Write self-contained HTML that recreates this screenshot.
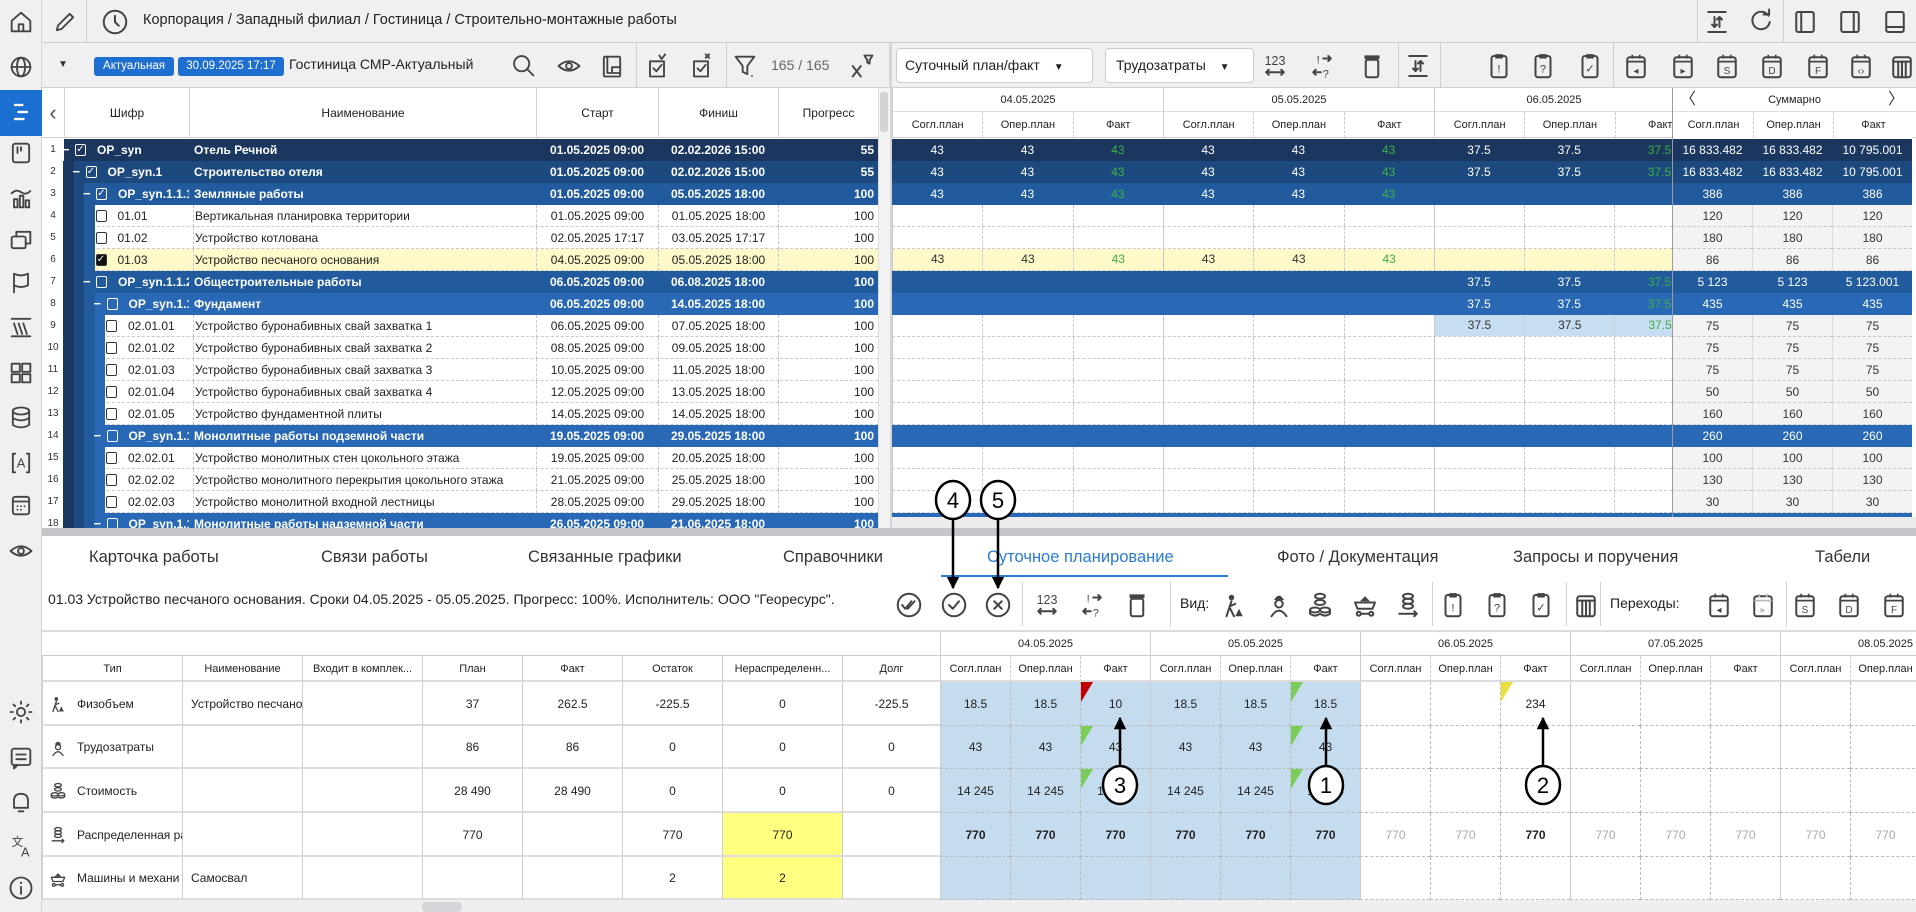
<!DOCTYPE html>
<html><head><meta charset="utf-8"><title>Суточное планирование</title>
<style>
*{box-sizing:border-box}
body{margin:0;width:1916px;height:912px;overflow:hidden;background:#f0f0f2;font-family:"Liberation Sans","DejaVu Sans",sans-serif;color:#222;position:relative}
.a{position:absolute}
</style></head>
<body>
<div class="a" style="left:0;top:0;width:42px;height:912px;background:#f0f0f2;border-right:1px solid #d6d6da"></div>
<div class="a" style="left:0;top:90px;width:42px;height:46px;background:#1a6fd1"></div>
<div class="a" style="left:42px;top:0;width:1874px;height:43px;background:#f0f0f2;border-bottom:1px solid #cfcfd3"></div>
<div class="a" style="left:86px;top:0;width:1px;height:43px;background:#cfcfd3"></div>
<div class="a" style="left:143px;top:12px;font-size:14.5px;color:#222;white-space:nowrap">Корпорация / Западный филиал / Гостиница / Строительно-монтажные работы</div>
<div class="a" style="left:42px;top:43px;width:848px;height:45px;background:#f0f0f2;border-bottom:1px solid #d0d0d4"></div>
<div class="a" style="left:94px;top:57px;width:80px;height:19px;background:#1e6fd0;color:#fff;border-radius:3px;font-size:11.5px;line-height:19px;text-align:center">Актуальная</div>
<div class="a" style="left:178px;top:57px;width:106px;height:19px;background:#1e6fd0;color:#fff;border-radius:3px;font-size:11.5px;line-height:19px;text-align:center">30.09.2025 17:17</div>
<div class="a" style="left:289px;top:56px;font-size:14px;white-space:nowrap">Гостиница СМР-Актуальный</div>
<div class="a" style="left:771px;top:57px;font-size:14px;color:#666">165 / 165</div>
<div class="a" style="left:892px;top:43px;width:1024px;height:45px;background:#f0f0f2;border-bottom:1px solid #d0d0d4"></div>
<div class="a" style="left:896px;top:48px;width:197px;height:35px;background:#fff;border:1px solid #ccc;border-radius:4px;font-size:14px;line-height:33px;padding-left:8px">Суточный план/факт <span style="font-size:10px;margin-left:10px">▼</span></div>
<div class="a" style="left:1105px;top:48px;width:149px;height:35px;background:#fff;border:1px solid #ccc;border-radius:4px;font-size:14px;line-height:33px;padding-left:10px">Трудозатраты <span style="font-size:10px;margin-left:10px">▼</span></div>
<div class="a" style="left:889px;top:43px;width:3px;height:487px;background:#d6d6da"></div>
<div class="a" style="left:42px;top:528px;width:1874px;height:8px;background:#c6c6ca"></div>
<div class="a" style="left:892px;top:517px;width:1024px;height:11px;background:#ececef"></div>
<div class="a" style="left:42px;top:536px;width:1874px;height:364px;background:#fff"></div>
<div class="a" style="left:42px;top:900px;width:1874px;height:12px;background:#efeff1"></div>
<div class="a" style="left:422px;top:902px;width:40px;height:10px;background:#d6d6da;border-radius:4px"></div>
<div class="a" style="left:48px;top:591px;font-size:14px;white-space:nowrap">01.03 Устройство песчаного основания. Сроки 04.05.2025 - 05.05.2025. Прогресс: 100%. Исполнитель: ООО "Георесурс".</div>
<div class="a" style="left:42px;top:630px;width:1874px;height:2px;background:#dcdce0"></div>
<div class="a" style="left:1180px;top:595px;font-size:14px">Вид:</div>
<div class="a" style="left:1610px;top:595px;font-size:14px">Переходы:</div>
<div class="a" style="left:941px;top:575px;width:287px;height:2px;background:#2a7bd4"></div>

<script>
const root = document.body;
function box(p,x,y,w,h,css){const d=document.createElement('div');d.className='a';d.style.cssText='left:'+x+'px;top:'+y+'px;width:'+w+'px;height:'+h+'px;'+(css||'');p.appendChild(d);return d;}
function txt(p,x,y,w,h,s,css){const d=box(p,x,y,w,h,'line-height:'+h+'px;white-space:nowrap;overflow:hidden;'+(css||''));d.textContent=s;return d;}

/* ---------- data ---------- */
const L = ['#1b365f','#1d4a7e','#215b9e','#2868b5'];
const rowKind = ['g1','g2','g3','l3','l3','l3','g3','g4','l4','l4','l4','l4','l4','g4','l4','l4','l4','g4'];
const rowCode = ['OP_syn','OP_syn.1','OP_syn.1.1.1','01.01','01.02','01.03','OP_syn.1.1.2','OP_syn.1.1.1','02.01.01','02.01.02','02.01.03','02.01.04','02.01.05','OP_syn.1.1.2','02.02.01','02.02.02','02.02.03','OP_syn.1.1.3'];
const rowName = ['Отель Речной','Строительство отеля','Земляные работы','Вертикальная планировка территории','Устройство котлована','Устройство песчаного основания','Общестроительные работы','Фундамент','Устройство буронабивных свай захватка 1','Устройство буронабивных свай захватка 2','Устройство буронабивных свай захватка 3','Устройство буронабивных свай захватка 4','Устройство фундаментной плиты','Монолитные работы подземной части','Устройство монолитных стен цокольного этажа','Устройство монолитного перекрытия цокольного этажа','Устройство монолитной входной лестницы','Монолитные работы надземной части'];
const rowStart = ['01.05.2025 09:00','01.05.2025 09:00','01.05.2025 09:00','01.05.2025 09:00','02.05.2025 17:17','04.05.2025 09:00','06.05.2025 09:00','06.05.2025 09:00','06.05.2025 09:00','08.05.2025 09:00','10.05.2025 09:00','12.05.2025 09:00','14.05.2025 09:00','19.05.2025 09:00','19.05.2025 09:00','21.05.2025 09:00','28.05.2025 09:00','26.05.2025 09:00'];
const rowFinish = ['02.02.2026 15:00','02.02.2026 15:00','05.05.2025 18:00','01.05.2025 18:00','03.05.2025 17:17','05.05.2025 18:00','06.08.2025 18:00','14.05.2025 18:00','07.05.2025 18:00','09.05.2025 18:00','11.05.2025 18:00','13.05.2025 18:00','14.05.2025 18:00','29.05.2025 18:00','20.05.2025 18:00','25.05.2025 18:00','29.05.2025 18:00','21.06.2025 18:00'];
const rowProgress = ['55','55','100','100','100','100','100','100','100','100','100','100','100','100','100','100','100','100'];
const dayCells = [
 ['43','43','43','43','43','43','37.5','37.5','37.5'],
 ['43','43','43','43','43','43','37.5','37.5','37.5'],
 ['43','43','43','43','43','43','','',''],
 [],[],
 ['43','43','43','43','43','43','','',''],
 ['','','','','','','37.5','37.5','37.5'],
 ['','','','','','','37.5','37.5','37.5'],
 ['','','','','','','37.5','37.5','37.5'],
 [],[],[],[],[],[],[],[],[]];
const sumPlan = ['16 833.482','16 833.482','386','120','180','86','5 123','435','75','75','75','50','160','260','100','130','30',''];
const sumOper = ['16 833.482','16 833.482','386','120','180','86','5 123','435','75','75','75','50','160','260','100','130','30',''];
const sumFact = ['10 795.001','10 795.001','386','120','180','86','5 123.001','435','75','75','75','50','160','260','100','130','30',''];
const topDates = ['04.05.2025','05.05.2025','06.05.2025'];
const subHeads = ['Согл.план','Опер.план','Факт'];

/* ---------- left table ---------- */
const lh = box(root,42,88,848,50,'background:#fff;border-bottom:1px solid #cfcfcf');


const colX = [64,189,536,658,778,878];
const colT = ['Шифр','Наименование','Старт','Финиш','Прогресс'];
for(let c=0;c<5;c++){
  const h = txt(root,colX[c],88,colX[c+1]-colX[c],50,colT[c],'text-align:center;font-size:12px;border-left:1px solid #d4d4d4');
  
  
}
const coll = txt(root,42,88,22,50,'‹','text-align:center;font-size:22px;color:#555');


const vs = box(root,878,88,12,440,'background:#f3f3f3;border-left:1px solid #ddd');


const vt = box(root,880,92,8,40,'background:#d4d4d4;border-radius:3px');



const lclip = box(root,42,138,836,390,'overflow:hidden;background:#fff');


const rclip = box(root,892,138,1024,379,'overflow:hidden;background:#fff');



const greenTxt = '#3cb043';
for(let i=0;i<rowKind.length;i++){
  const k = rowKind[i], y = 1+22*i, isG = k[0]==='g', lv = +k[1];
  const stripes = isG ? lv-1 : lv;
  const bg = isG ? L[lv-1] : (i===5 ? '#fdf9c8' : '#fff');
  const row = box(lclip,0,y,836,22,'background:'+bg+(isG?'':';border-bottom:1px dashed #c8c8c8'));
  
  
  const num = txt(lclip,0,y,22,22,String(i+1),'background:#fff;text-align:center;font-size:10px;color:#333');
  
  
  for(let s=0;s<stripes;s++){
    const st = box(lclip,21+s*10.5,y,10.5,22,'background:'+L[s]);
    
    
  }
  const base = 21 + stripes*10.5;
  const fc = isG ? '#fff' : '#222';
  const fw = isG ? 'bold' : 'normal';
  let cbx, codeX;
  if(isG){
    const mn = txt(lclip,base-1,y,10,22,'−','color:#fff;font-size:13px;font-weight:bold');
    
    
    cbx = base+12; codeX = base+34;
  } else { cbx = base+1; codeX = base+23; }
  const checked = (i<3 || i===5);
  const cb = box(lclip,cbx,y+5,11,12,'border:1.3px solid '+(isG?'#fff':'#333')+';border-radius:2px;font-size:10px;line-height:10px;text-align:center;color:'+(i===5?'#fff':(isG?'#fff':'#333'))+';background:'+(i===5?'#111':'transparent'));
  cb.textContent = checked ? '✓' : '';
  
  
  const cd = txt(lclip,codeX,y,147-codeX,22,rowCode[i],'font-size:12px;color:'+fc+';font-weight:'+fw);
  
  
  const nm = txt(lclip,151,y,345,22,rowName[i],'font-size:12px;padding-left:1px;color:'+fc+';font-weight:'+fw+(isG?'':';border-left:1px dashed #c8c8c8'));
  
  
  const sd = txt(lclip,494,y,122,22,rowStart[i],'font-size:12px;text-align:center;color:'+fc+';font-weight:'+fw+(isG?'':';border-left:1px dashed #c8c8c8'));
  
  
  const fd = txt(lclip,616,y,120,22,rowFinish[i],'font-size:12px;text-align:center;color:'+fc+';font-weight:'+fw+(isG?'':';border-left:1px dashed #c8c8c8'));
  
  
  const pr = txt(lclip,736,y,100,22,rowProgress[i],'font-size:12px;text-align:right;padding-right:4px;color:'+fc+';font-weight:'+fw+(isG?'':';border-left:1px dashed #c8c8c8'));
  
  

  /* right grid row */
  const rbg = isG ? L[lv-1] : (i===5 ? '#fdf9c8' : '#fff');
  const rr = box(rclip,0,y,780,22,'background:'+rbg+(isG?'':';border-bottom:1px dashed #c8c8c8'));
  
  
  const vals = dayCells[i];
  for(let c=0;c<9;c++){
    const x = c*90.3;
    const v = vals[c] || '';
    const isFact = c%3===2;
    let cbg = 'transparent';
    if(i===8 && c>=6) cbg = '#c7ddf2';
    const col = isFact ? greenTxt : (isG ? '#fff' : '#333');
    const cell = txt(rclip,x,y,90.3,isG?22:21,v,'font-size:12px;text-align:center;color:'+col+';background:'+cbg+(isG?'':(c%3===0?';border-left:1px solid #c8c8c8':';border-left:1px dashed #c8c8c8')));
    
    
  }
  const sbg = isG ? L[lv-1] : '#f3f3f3';
  const sums = [sumPlan[i],sumOper[i],sumFact[i]];
  for(let c=0;c<3;c++){
    const sc = txt(rclip,780+c*80,y,80,22,sums[c],'font-size:12px;text-align:center;background:'+sbg+';color:'+(isG?'#fff':'#333')+';border-left:1px solid '+(c===0?'#9a9aa0':(isG?'transparent':'#dcdcdc'))+(isG?'':';border-bottom:1px dashed #c8c8c8'));
    
    
  }
}

/* ---------- right grid header ---------- */
const rh = box(root,892,88,1024,50,'background:#fff;border-bottom:1px solid #cfcfcf');


for(let d=0;d<3;d++){
  const dh = txt(root,892+d*271,88,(d<2?271:239),24,topDates[d],'font-size:11px;text-align:center;border-left:1px solid #ccc;border-bottom:1px solid #ddd');
  
  
  for(let s=0;s<3;s++){
    const sh = txt(root,892+d*271+s*90.3,112,90.3,26,subHeads[s],'font-size:11px;text-align:center;border-left:1px '+(s===0?'solid #ccc':'dashed #ccc'));
    
    
  }
}
const rclipFix = box(root,1672,88,244,429,'background:transparent;border-left:1px solid #9a9aa0');


const sumH = txt(root,1673,88,243,24,'Суммарно','font-size:11px;text-align:center;background:#fff;border-bottom:1px solid #ddd');


const la = txt(root,1680,88,20,24,'〈','font-size:16px;color:#333');


const ra = txt(root,1888,88,20,24,'〉','font-size:16px;color:#333');


for(let s=0;s<3;s++){
  const sh = txt(root,1673+s*80,112,80,26,subHeads[s],'font-size:11px;text-align:center;background:#fff;border-left:1px '+(s===0?'solid #fff':'dashed #ccc'));
  
  
}

/* ---------- bottom tabs ---------- */
const tabs = ['Карточка работы','Связи работы','Связанные графики','Справочники','Суточное планирование','Фото / Документация','Запросы и поручения','Табели'];
const tabX = [89,321,528,783,987,1277,1513,1815];
for(let t=0;t<tabs.length;t++){
  const tb = txt(root,tabX[t],544,260,26,tabs[t],'width:auto;font-size:16.5px;color:'+(t===4?'#2a7bd4':'#333'));
  
  
}

/* ---------- bottom grid ---------- */
const bCols = [42,182,302,422,522,622,722,842,940];
const bHeads = ['Тип','Наименование','Входит в комплек...','План','Факт','Остаток','Нераспределенн...','Долг'];
const bTypes = ['Физобъем','Трудозатраты','Стоимость','Распределенная ра','Машины и механи'];
const bNames = ['Устройство песчано','','','','Самосвал'];
const bPlan = ['37','86','28 490','770',''];
const bFact = ['262.5','86','28 490','',''];
const bRest = ['-225.5','0','0','770','2'];
const bUnalloc = ['0','0','0','770','2'];
const bDebt = ['-225.5','0','0','',''];
const bDates = ['04.05.2025','05.05.2025','06.05.2025','07.05.2025','08.05.2025'];
const bDay = [
 ['18.5','18.5','10','18.5','18.5','18.5','','','234','','','','',''],
 ['43','43','43','43','43','43','','','','','','','',''],
 ['14 245','14 245','14 245','14 245','14 245','14 245','','','','','','','',''],
 ['770','770','770','770','770','770','770','770','770','770','770','770','770','770'],
 []];
const bBoldMask = [[1,1,1,1,1,1,0,0,1,0,0,0,0,0]];
const bRowY = [682,726,769,813,857,900];
const topBlank = box(root,42,632,898,24,'background:#fff;border-bottom:1px solid #ccc');


for(let c=0;c<8;c++){
  const h = txt(root,bCols[c],656,bCols[c+1]-bCols[c],26,bHeads[c],'font-size:11px;text-align:center;border-left:1px solid #ccc;border-bottom:2px solid #ddd;background:#fff');
  
  
}
for(let d=0;d<5;d++){
  const dh = txt(root,940+d*210,632,210,24,bDates[d],'font-size:11px;text-align:center;border-left:1px solid #ccc;border-bottom:1px solid #ccc;background:#fff');
  
  
  for(let s=0;s<3;s++){
    const sh = txt(root,940+d*210+s*70,656,70,26,subHeads[s],'font-size:11px;text-align:center;background:#fff;border-bottom:2px solid #ddd;border-left:1px '+(s===0?'solid #ccc':'dashed #ccc'));
    
    
  }
}
const blue = box(root,940,682,420,218,'background:#c5dcef');


const leftVals = [bTypes,bNames,null,bPlan,bFact,bRest,bUnalloc,bDebt];
for(let r=0;r<5;r++){
  const y = bRowY[r], h = bRowY[r+1]-y;
  for(let c=0;c<8;c++){
    let v = leftVals[c] ? leftVals[c][r] : '';
    const yl = (c===6 && r>=3) ? ';background:#ffff80' : '';
    const al = c<2 ? 'left;padding-left:'+(c===0?34:8)+'px' : 'center';
    const cell = txt(root,bCols[c],y,bCols[c+1]-bCols[c],h,v,'font-size:12px;text-align:'+al+';border-left:1px solid #ccc;border-bottom:2px solid #ddd'+yl);
    
    
  }
  for(let c=0;c<14;c++){
    const v = bDay[r][c] || '';
    const bold = r===3 && (c<6 || c===8);
    const gray = r===3 && !bold;
    const cell = txt(root,940+c*70,y,70,h,v,'font-size:12px;text-align:center;color:'+(gray?'#aaa':'#222')+';font-weight:'+(bold?'bold':'normal')+';border-bottom:1px dashed #bbb;border-left:1px '+(c%3===0?'solid #ccc':'dashed #bbb'));
    
    
  }
}
/* triangles */
const triCol = ['#c00000','#7ccc5c','#7ccc5c','#7ccc5c','#7ccc5c','#7ccc5c','#e8e040'];
const triC = [2,2,2,5,5,5,8];
const triR = [0,1,2,0,1,2,0];
for(let t=0;t<triC.length;t++){
  const tr = box(root,941+triC[t]*70,bRowY[triR[t]],0,0,'border-top:20px solid '+triCol[t]+';border-right:12px solid transparent');
  
  
}

/* ---------- icons ---------- */
const S='stroke="#444" stroke-width="1.6" fill="none" stroke-linecap="round" stroke-linejoin="round"';
function clipIco(g,c){return '<rect x="6" y="4" width="12" height="17" rx="2" '+S+' stroke="'+c+'"/><rect x="9" y="2.5" width="6" height="3.5" fill="'+c+'"/><text x="12" y="17" font-size="9" text-anchor="middle" fill="'+c+'" font-family="Liberation Sans">'+g+'</text>';}
function calIco(g,c){return '<rect x="5" y="5" width="14" height="16" rx="2" '+S+' stroke="'+c+'"/><line x1="5" y1="8.5" x2="19" y2="8.5" stroke="'+c+'" stroke-width="1.4"/><line x1="9" y1="3" x2="9" y2="6" stroke="'+c+'" stroke-width="1.4"/><line x1="15" y1="3" x2="15" y2="6" stroke="'+c+'" stroke-width="1.4"/><text x="12" y="18.5" font-size="8" text-anchor="middle" fill="'+c+'" font-family="Liberation Sans">'+g+'</text>';}
const ICONS = {
 home:'<path d="M4 11 L12 4 L20 11 V20 H4Z M10 20 V14 H14 V20" '+S+'/>',
 globe:'<circle cx="12" cy="12" r="8" '+S+'/><ellipse cx="12" cy="12" rx="3.5" ry="8" '+S+'/><line x1="4" y1="12" x2="20" y2="12" '+S+'/>',
 list:'<line x1="6" y1="6" x2="14" y2="6" stroke="#fff" stroke-width="2"/><line x1="9" y1="12" x2="18" y2="12" stroke="#fff" stroke-width="2"/><line x1="6" y1="18" x2="15" y2="18" stroke="#fff" stroke-width="2"/>',
 board:'<rect x="5" y="4" width="14" height="16" rx="2" '+S+'/><line x1="9" y1="7" x2="9" y2="12" '+S+'/><line x1="12" y1="7" x2="12" y2="10" '+S+'/>',
 chart:'<path d="M4 8 Q8 4 12 7 T20 6" '+S+'/><rect x="6" y="13" width="3" height="7" '+S+'/><rect x="11" y="10" width="3" height="10" '+S+'/><rect x="16" y="14" width="3" height="6" '+S+'/>',
 windows:'<rect x="4" y="9" width="12" height="10" rx="1.5" '+S+'/><path d="M8 9 V5 H20 V15 H16" '+S+'/>',
 flag:'<path d="M6 20 V4 Q12 7 18 4 V14 Q12 17 6 14" '+S+'/>',
 lines:'<line x1="4" y1="5" x2="20" y2="5" '+S+'/><line x1="6" y1="9" x2="9" y2="18" '+S+'/><line x1="10" y1="9" x2="13" y2="18" '+S+'/><line x1="14" y1="9" x2="17" y2="18" '+S+'/><line x1="4" y1="20" x2="20" y2="20" '+S+'/>',
 grid:'<rect x="4" y="4" width="7" height="7" '+S+'/><rect x="13" y="4" width="7" height="7" '+S+'/><rect x="4" y="13" width="7" height="7" '+S+'/><rect x="13" y="13" width="7" height="7" '+S+'/>',
 db:'<ellipse cx="12" cy="6" rx="7" ry="3" '+S+'/><path d="M5 6 V18 Q12 22 19 18 V6 M5 12 Q12 16 19 12" '+S+'/>',
 bracketA:'<path d="M7 4 H5 V20 H7 M17 4 H19 V20 H17" '+S+'/><text x="12" y="16" font-size="11" text-anchor="middle" fill="#444" font-family="Liberation Sans">A</text>',
 calendar:'<rect x="5" y="5" width="14" height="15" rx="2" '+S+'/><line x1="5" y1="9" x2="19" y2="9" '+S+'/><circle cx="9" cy="13" r=".8" fill="#444"/><circle cx="12" cy="13" r=".8" fill="#444"/><circle cx="15" cy="13" r=".8" fill="#444"/><circle cx="9" cy="16" r=".8" fill="#444"/><circle cx="12" cy="16" r=".8" fill="#444"/>',
 eye:'<path d="M3 12 Q12 4 21 12 Q12 20 3 12Z" '+S+'/><circle cx="12" cy="12" r="2.5" '+S+'/>',
 sun:'<circle cx="12" cy="12" r="3.5" '+S+'/><path d="M12 3v2M12 19v2M3 12h2M19 12h2M5.6 5.6l1.4 1.4M17 17l1.4 1.4M5.6 18.4L7 17M17 7l1.4-1.4" '+S+'/>',
 chat:'<rect x="4" y="4" width="16" height="14" rx="2" '+S+'/><path d="M6 18 V21 L9 18" '+S+'/><line x1="8" y1="9" x2="16" y2="9" '+S+'/><line x1="8" y1="13" x2="16" y2="13" '+S+'/>',
 bell:'<path d="M6 17 V11 Q6 5 12 5 Q18 5 18 11 V17 H6Z M10 20 H14" '+S+'/>',
 translate:'<text x="4" y="12" font-size="10" fill="#444" font-family="Liberation Sans">文</text><text x="12" y="21" font-size="11" fill="#444" font-family="Liberation Sans">A</text>',
 info:'<circle cx="12" cy="12" r="9" '+S+'/><line x1="12" y1="11" x2="12" y2="17" '+S+'/><circle cx="12" cy="7.5" r="1" fill="#444"/>',
 pencil:'<path d="M5 19 L6 15 L16 5 L19 8 L9 18Z" '+S+'/>',
 clock:'<circle cx="12" cy="12" r="9" '+S+'/><path d="M12 7 V12 L15 15" '+S+'/>',
 search:'<circle cx="10" cy="10" r="6.5" '+S+'/><line x1="15" y1="15" x2="20" y2="20" '+S+'/>',
 layout:'<rect x="5" y="4" width="14" height="17" rx="1" '+S+'/><path d="M8 4 V18 H19 M12 18 V13 H19" '+S+'/>',
 chk:'<rect x="6" y="8" width="12" height="13" '+S+'/><path d="M9 14 L11.5 16.5 L16 11 M14 3 L16 6 L19 2" '+S+'/>',
 chkx:'<rect x="6" y="8" width="12" height="13" '+S+'/><path d="M9 14 L11.5 16.5 L16 11 M16 2 L19 5 M19 2 L16 5" '+S+'/>',
 filter:'<path d="M4 4 H20 L14 12 V19 L10 17 V12Z" '+S+'/><path d="M17 20 L19 20 L18 22Z" fill="#444"/>',
 xfilter:'<path d="M4 12 L11 21 M11 12 L4 21" '+S+'/><path d="M14 3 H21 L18.5 7 V10 L16.5 9 V7Z" '+S+'/>',
 sort:'<line x1="5" y1="4" x2="19" y2="4" '+S+'/><line x1="5" y1="20" x2="19" y2="20" '+S+'/><path d="M10 8 V16 M8 14 L10 16 L12 14 M14 16 V8 M12 10 L14 8 L16 10" '+S+'/>',
 refresh:'<path d="M18 7 A7 7 0 1 0 19 12" '+S+'/><path d="M14 6 H18.5 V2" '+S+'/>',
 panelL:'<rect x="5" y="4" width="14" height="16" rx="1.5" '+S+'/><line x1="9" y1="4" x2="9" y2="20" '+S+'/>',
 panelR:'<rect x="5" y="4" width="14" height="16" rx="1.5" '+S+'/><line x1="15" y1="4" x2="15" y2="20" '+S+'/>',
 panelB:'<rect x="5" y="4" width="14" height="16" rx="1.5" '+S+'/><line x1="5" y1="16" x2="19" y2="16" '+S+'/>',
 num:'<text x="12" y="11" font-size="10" text-anchor="middle" fill="#444" font-family="Liberation Sans">123</text><path d="M5 17 H19 M7 15 L5 17 L7 19 M17 15 L19 17 L17 19" '+S+'/>',
 qa:'<text x="9" y="10" font-size="9" text-anchor="middle" fill="#444" font-family="Liberation Sans">!</text><text x="15" y="21" font-size="9" text-anchor="middle" fill="#444" font-family="Liberation Sans">?</text><path d="M13 6 H19 M17 4 L19 6 L17 8 M5 17 H11 M7 15 L5 17 L7 19" '+S+'/>',
 trash:'<rect x="7" y="7" width="10" height="14" rx="1.5" '+S+'/><rect x="6" y="3.5" width="12" height="3" fill="#444"/>',
 ccheck:'<circle cx="12" cy="12" r="9" '+S+'/><path d="M8 12 L11 15 L16 9" '+S+'/>',
 cx:'<circle cx="12" cy="12" r="9" '+S+'/><path d="M9 9 L15 15 M15 9 L9 15" '+S+'/>',
 cdouble:'<circle cx="12" cy="12" r="9" '+S+'/><path d="M6.5 12 L9 15 L14 9 M10.5 14.5 L11 15 L16.5 9" '+S+'/>',
 worker:'<circle cx="10" cy="6" r="2.2" fill="#444"/><path d="M10 9 L8 15 L6 21 M9 13 L13 11 M9 15 L12 21" '+S+'/><path d="M13 21 L19 21 L16 15Z" fill="#444"/>',
 person:'<path d="M8 8 Q12 1 16 8Z" fill="#444"/><circle cx="12" cy="11" r="3" '+S+'/><path d="M6 21 Q12 12 18 21" '+S+'/>',
 coins:'<ellipse cx="12" cy="5" rx="4" ry="2" '+S+'/><ellipse cx="12" cy="10" rx="4" ry="2" '+S+'/><ellipse cx="8" cy="16" rx="4" ry="2" '+S+'/><ellipse cx="16" cy="16" rx="4" ry="2" '+S+'/><path d="M4 16 V19 Q8 22 12 19 Q16 22 20 19 V16" '+S+'/>',
 truck:'<path d="M8 9 L12 5 L16 9Z" fill="#444"/><path d="M4 10 H20 L18 15 H6Z" '+S+'/><circle cx="7" cy="19" r="1.6" '+S+'/><circle cx="17" cy="19" r="1.6" '+S+'/><line x1="9" y1="19" x2="15" y2="19" '+S+'/>',
 coinsArrow:'<ellipse cx="12" cy="5" rx="4" ry="2" '+S+'/><ellipse cx="12" cy="9" rx="4" ry="2" '+S+'/><ellipse cx="12" cy="13" rx="4" ry="2" '+S+'/><path d="M5 19 H19 M17 17 L19 19 L17 21" '+S+'/>',
 calGrid:'<rect x="5" y="5" width="14" height="16" rx="2" '+S+'/><line x1="5" y1="8.5" x2="19" y2="8.5" '+S+'/><path d="M9 9 V21 M12 9 V21 M15 9 V21" '+S+'/>'
};
function icon(cx,cy,sz,inner,name){
  const s = document.createElementNS('http://www.w3.org/2000/svg','svg');
  s.setAttribute('viewBox','0 0 24 24');
  s.setAttribute('width',sz);s.setAttribute('height',sz);
  s.style.cssText='position:absolute;left:'+(cx-sz/2)+'px;top:'+(cy-sz/2)+'px';
  s.innerHTML = inner;
  
  
  root.appendChild(s);
  return s;
}
const sideY = [22,67,112,153,198,240,283,327,373,418,463,505,551,712,758,802,846,888];
const sideK = ['home','globe','list','board','chart','windows','flag','lines','grid','db','bracketA','calendar','eye','sun','chat','bell','translate','info'];
for(let i=0;i<sideY.length;i++){ icon(21,sideY[i],28,ICONS[sideK[i]],'sidebar-'+sideK[i]+'-icon'); }
icon(65,22,28,ICONS.pencil,'edit-icon');
icon(115,22,30,ICONS.clock,'history-icon');
const topRX = [1717,1761,1805,1850,1895];
const topRK = ['sort','refresh','panelL','panelR','panelB'];
for(let i=0;i<5;i++){ icon(topRX[i],22,30,ICONS[topRK[i]],'top-'+topRK[i]+'-icon'); }
const dd = txt(root,58,55,14,20,'▼','font-size:10px;color:#333');


const lpX=[524,569,612,657,701,745,862];
const lpK=['search','eye','layout','chk','chkx','filter','xfilter'];
for(let i=0;i<lpX.length;i++){ icon(lpX[i],66,28,ICONS[lpK[i]],'toolbar-'+lpK[i]+'-icon'); }
const rpX=[1275,1322,1372,1418];
const rpK=['num','qa','trash','sort'];
for(let i=0;i<rpX.length;i++){ icon(rpX[i],66,30,ICONS[rpK[i]],'grid-'+rpK[i]+'-icon'); }
const clipG=['!','?','✓'];
const clipX=[1499,1543,1590];
for(let i=0;i<3;i++){ icon(clipX[i],66,30,clipIco(clipG[i],'#444'),'clipboard-icon'); }
const calG=['◂','▸','S','D','F','‹›',''];
const calX=[1636,1683,1727,1772,1818,1861,1902];
for(let i=0;i<7;i++){ icon(calX[i],66,30,i===6?ICONS.calGrid:calIco(calG[i],'#444'),'calendar-nav-icon'); }
/* bottom toolbar */
const btX=[909,954,998,1047,1092,1137];
const btK=['cdouble','ccheck','cx','num','qa','trash'];
for(let i=0;i<btX.length;i++){ icon(btX[i],605,30,ICONS[btK[i]],'daily-'+btK[i]+'-icon'); }
const vwX=[1234,1279,1320,1365,1408];
const vwK=['worker','person','coins','truck','coinsArrow'];
for(let i=0;i<vwX.length;i++){ icon(vwX[i],605,30,ICONS[vwK[i]],'view-'+vwK[i]+'-icon'); }
for(let i=0;i<3;i++){ icon([1453,1497,1541][i],605,30,clipIco(clipG[i],'#444'),'daily-clipboard-icon'); }
icon(1586,605,30,ICONS.calGrid,'daily-calendar-grid-icon');
icon(1719,605,30,calIco('◂','#444'),'transition-prev-icon');
icon(1763,605,30,calIco('▸','#bbb'),'transition-next-icon');
const bcG=['S','D','F'];
for(let i=0;i<3;i++){ icon([1805,1849,1894][i],605,30,calIco(bcG[i],'#444'),'transition-'+bcG[i]+'-icon'); }
const typeK=['worker','person','coins','coinsArrow','truck'];
for(let r=0;r<5;r++){ icon(58,(bRowY[r]+bRowY[r+1])/2,20,ICONS[typeK[r]],'resource-type-icon'); }
/* separators */
const seps=[[636,43,45],[726,43,45],[1398,43,45],[1440,43,45],[1613,43,45],[1697,0,43],[1783,0,43],[1022,582,44],[1170,582,44],[1432,582,44],[1566,582,44],[1600,582,44],[1786,582,44]];
for(let i=0;i<seps.length;i++){
  const sp = box(root,seps[i][0],seps[i][1],1,seps[i][2],'background:#cfcfd3');
  
  
}
</script>

<svg class="a" style="left:0;top:0" width="1916" height="912">
 <defs><marker id="ah" viewBox="0 0 10 10" refX="9" refY="5" markerWidth="5" markerHeight="5" orient="auto"><path d="M0 0 L10 5 L0 10Z" fill="#000"/></marker></defs>
 <g><line x1="1120" y1="765" x2="1120" y2="718" stroke="#000" stroke-width="2.5" marker-end="url(#ah)"/><ellipse cx="1120" cy="785" rx="17" ry="19" fill="#fff" stroke="#000" stroke-width="2.5"/><text x="1120" y="793" font-size="22" text-anchor="middle" font-family="Liberation Sans">3</text></g>
 <g><line x1="1326" y1="765" x2="1326" y2="718" stroke="#000" stroke-width="2.5" marker-end="url(#ah)"/><ellipse cx="1326" cy="785" rx="17" ry="19" fill="#fff" stroke="#000" stroke-width="2.5"/><text x="1326" y="793" font-size="22" text-anchor="middle" font-family="Liberation Sans">1</text></g>
 <g><line x1="1543" y1="765" x2="1543" y2="718" stroke="#000" stroke-width="2.5" marker-end="url(#ah)"/><ellipse cx="1543" cy="785" rx="17" ry="19" fill="#fff" stroke="#000" stroke-width="2.5"/><text x="1543" y="793" font-size="22" text-anchor="middle" font-family="Liberation Sans">2</text></g>
 <g><line x1="953" y1="519" x2="953" y2="588" stroke="#000" stroke-width="2.5" marker-end="url(#ah)"/><ellipse cx="953" cy="500" rx="17" ry="19" fill="#fff" stroke="#000" stroke-width="2.5"/><text x="953" y="508" font-size="22" text-anchor="middle" font-family="Liberation Sans">4</text></g>
 <g><line x1="998" y1="519" x2="998" y2="588" stroke="#000" stroke-width="2.5" marker-end="url(#ah)"/><ellipse cx="998" cy="500" rx="17" ry="19" fill="#fff" stroke="#000" stroke-width="2.5"/><text x="998" y="508" font-size="22" text-anchor="middle" font-family="Liberation Sans">5</text></g>
</svg>
</body></html>
